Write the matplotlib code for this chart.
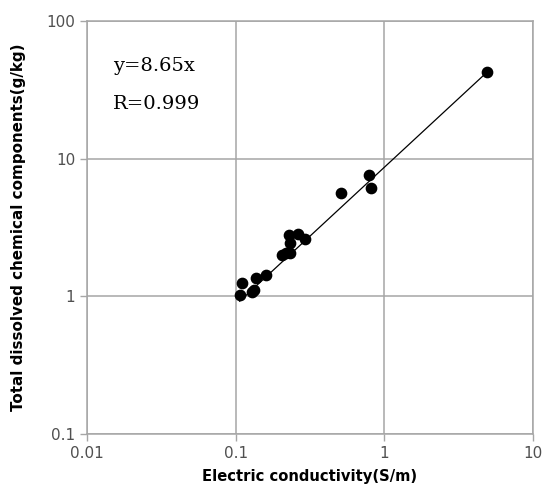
import matplotlib.pyplot as plt
import numpy as np
from matplotlib.ticker import FixedLocator, NullLocator

# conductividad (S/m) y componentes disueltos (g/kg)
conductividad = [0.1065, 0.111, 0.128, 0.132, 0.138, 0.159, 0.204, 0.217, 0.234,
                 0.227, 0.261, 0.234, 0.295, 0.514, 0.792, 0.818, 4.91]
componentes = [1.03, 1.26, 1.08, 1.11, 1.37, 1.42, 2.01, 2.05, 2.08,
               2.81, 2.86, 2.46, 2.63, 5.67, 7.65, 6.17, 42.7]
pendiente = 8.65
r = 0.999

x_ticks = [0.01, 0.1, 1, 10]
x_labels = ["0.01", "0.1", "1", "10"]
y_ticks = [0.1, 1, 10, 100]
y_labels = ["0.1", "1", "10", "100"]

gris = "#a6a6a6"

fig = plt.figure(figsize=(5.46, 4.93), dpi=100)
ax = fig.add_axes([0.1593, 0.1197, 0.8167, 0.8377])

ax.set_xscale("log")
ax.set_yscale("log")
ax.set_xlim(0.01, 10)
ax.set_ylim(0.1, 100)

# linea de tendencia y=8.65x
xs = np.array([min(conductividad), max(conductividad)])
ax.plot(xs, pendiente * xs, color="black", linewidth=0.9, zorder=3)

ax.scatter(conductividad, componentes, s=55, color="black", zorder=4)

ax.xaxis.set_major_locator(FixedLocator(x_ticks))
ax.yaxis.set_major_locator(FixedLocator(y_ticks))
ax.xaxis.set_minor_locator(NullLocator())
ax.yaxis.set_minor_locator(NullLocator())
ax.set_xticklabels(x_labels)
ax.set_yticklabels(y_labels)
ax.tick_params(axis="both", colors=gris, labelcolor="#505050", labelsize=11,
               length=5, width=1, direction="out")

ax.grid(True, color=gris, linewidth=1.1)
for s in ax.spines.values():
    s.set_color(gris)
    s.set_linewidth(1.1)

ax.set_xlabel("Electric conductivity(S/m)", fontsize=10.6, fontweight="bold",
              family="DejaVu Sans", labelpad=6)
ax.set_ylabel("Total dissolved chemical components(g/kg)", fontsize=10.9,
              fontweight="bold", family="DejaVu Sans")
ax.yaxis.set_label_coords(-0.137, 0.5)

ax.text(0.058, 0.89, "y=8.65x", transform=ax.transAxes, fontsize=14,
        family="DejaVu Serif", va="center", ha="left")
ax.text(0.058, 0.80, "R=" + str(r), transform=ax.transAxes, fontsize=14,
        family="DejaVu Serif", va="center", ha="left")

plt.savefig("out.png")
